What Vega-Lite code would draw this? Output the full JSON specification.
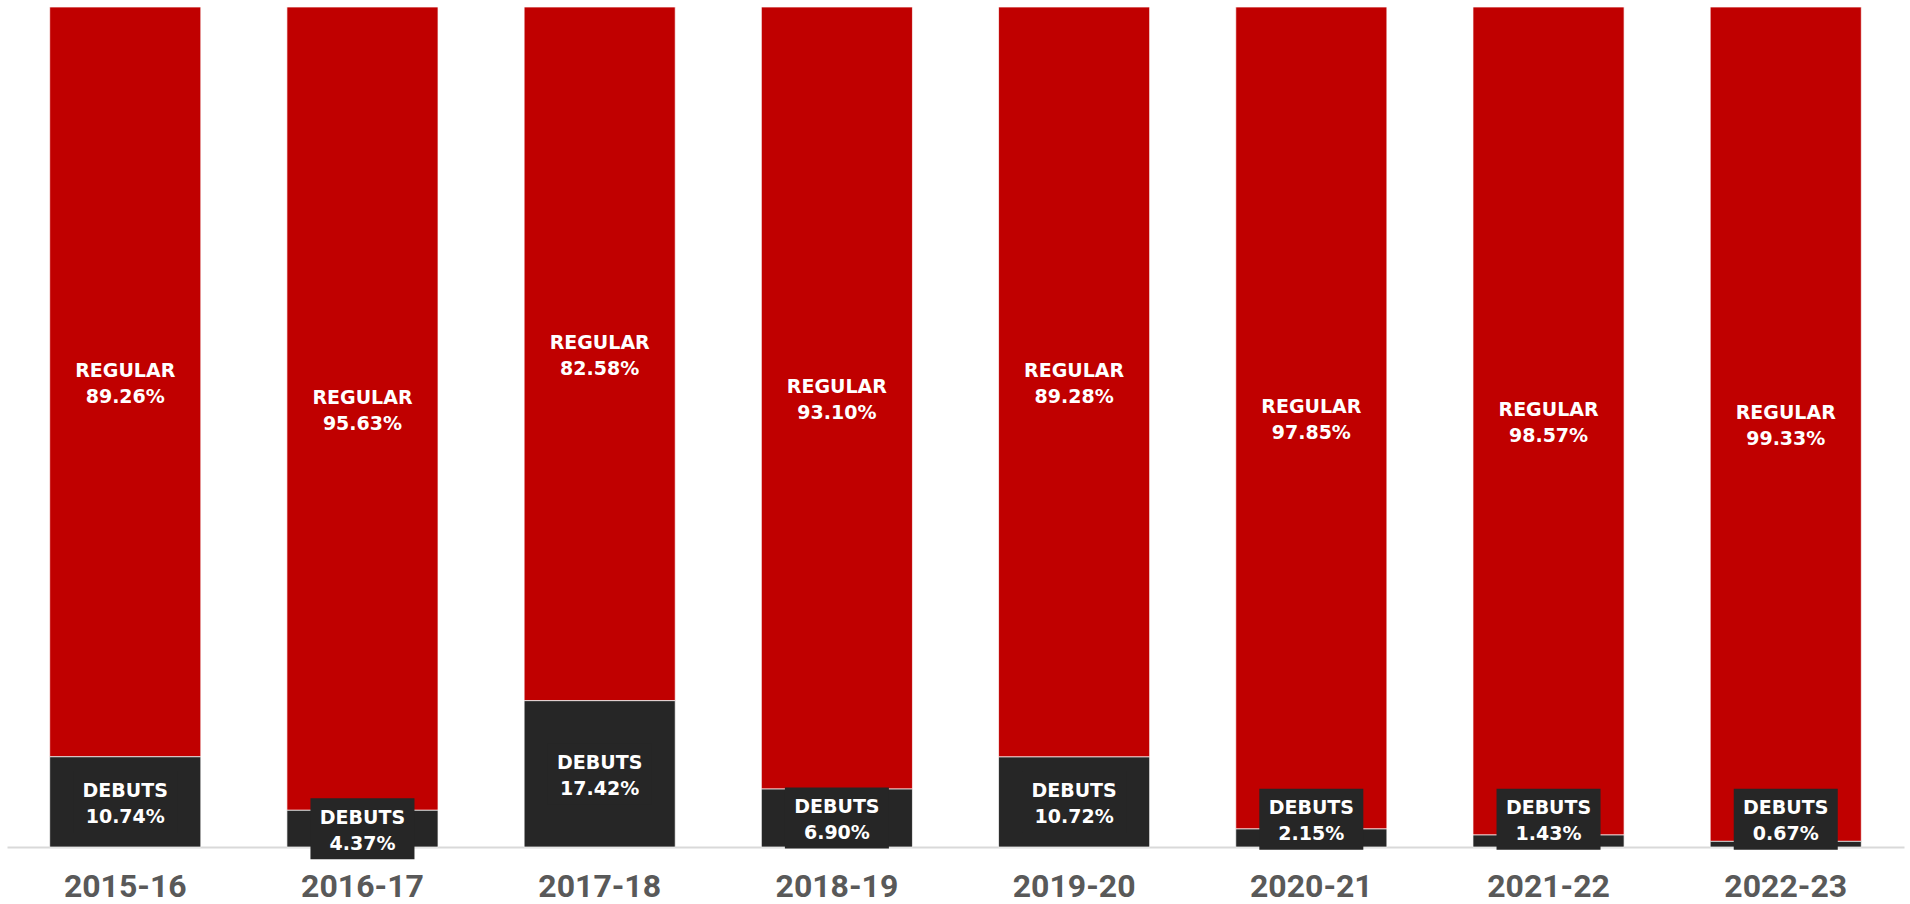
{
  "$schema": "https://vega.github.io/schema/vega-lite/v6.json",
  "width": 1897,
  "height": 840,
  "autosize": {"type": "none"},
  "padding": {"left": 7, "top": 7, "right": 6, "bottom": 57},
  "background": "#ffffff",
  "config": {"view": {"stroke": null}},
  "data": {
    "values": [
      {"season": "2015-16", "type": "REGULAR", "order": 2, "value": 89.26},
      {"season": "2015-16", "type": "DEBUTS", "order": 1, "value": 10.74},
      {"season": "2016-17", "type": "REGULAR", "order": 2, "value": 95.63},
      {"season": "2016-17", "type": "DEBUTS", "order": 1, "value": 4.37},
      {"season": "2017-18", "type": "REGULAR", "order": 2, "value": 82.58},
      {"season": "2017-18", "type": "DEBUTS", "order": 1, "value": 17.42},
      {"season": "2018-19", "type": "REGULAR", "order": 2, "value": 93.10},
      {"season": "2018-19", "type": "DEBUTS", "order": 1, "value": 6.90},
      {"season": "2019-20", "type": "REGULAR", "order": 2, "value": 89.28},
      {"season": "2019-20", "type": "DEBUTS", "order": 1, "value": 10.72},
      {"season": "2020-21", "type": "REGULAR", "order": 2, "value": 97.85},
      {"season": "2020-21", "type": "DEBUTS", "order": 1, "value": 2.15},
      {"season": "2021-22", "type": "REGULAR", "order": 2, "value": 98.57},
      {"season": "2021-22", "type": "DEBUTS", "order": 1, "value": 1.43},
      {"season": "2022-23", "type": "REGULAR", "order": 2, "value": 99.33},
      {"season": "2022-23", "type": "DEBUTS", "order": 1, "value": 0.67}
    ]
  },
  "transform": [
    {"stack": "value", "groupby": ["season"], "sort": [{"field": "order", "order": "ascending"}], "as": ["y0", "y1"]},
    {"calculate": "datum.type == 'DEBUTS' ? (datum.value < 4 ? 3.3 : datum.value / 2) : (datum.y0 + datum.y1) / 2", "as": "labelY"},
    {"calculate": "datum.type + '\\n' + format(datum.value, '.2f') + '%'", "as": "label"}
  ],
  "encoding": {
    "x": {
      "field": "season",
      "type": "nominal",
      "sort": null,
      "scale": {"paddingInner": 0.363, "paddingOuter": 0.18},
      "axis": {
        "title": null,
        "orient": "bottom",
        "labelAngle": 0,
        "ticks": false,
        "grid": false,
        "domainColor": "#d9d9d9",
        "domainWidth": 2,
        "labelFont": "Roboto",
        "labelFontSize": 32,
        "labelFontWeight": "bold",
        "labelColor": "#595959",
        "labelBaseline": "middle",
        "labelPadding": 39
      }
    }
  },
  "layer": [
    {
      "mark": {"type": "bar", "stroke": "#ffffff", "strokeWidth": 1, "strokeOpacity": 0.7},
      "encoding": {
        "y": {"field": "y0", "type": "quantitative", "scale": {"domain": [0, 100], "nice": false}, "axis": null},
        "y2": {"field": "y1"},
        "color": {
          "field": "type",
          "type": "nominal",
          "scale": {"domain": ["REGULAR", "DEBUTS"], "range": ["#c00000", "#262626"]},
          "legend": null
        }
      }
    },
    {
      "transform": [{"filter": "datum.type == 'DEBUTS'"}],
      "mark": {
        "type": "point",
        "shape": "M-1.705,-1L1.705,-1L1.705,1L-1.705,1Z",
        "size": 3721,
        "filled": true,
        "opacity": 1,
        "color": "#262626",
        "strokeWidth": 0
      },
      "encoding": {
        "y": {"field": "labelY", "type": "quantitative"}
      }
    },
    {
      "mark": {
        "type": "text",
        "lineBreak": "\n",
        "lineHeight": 26,
        "font": "DejaVu Sans",
        "fontWeight": "bold",
        "fontSize": 19,
        "color": "#ffffff",
        "align": "center",
        "baseline": "middle",
        "dy": -11
      },
      "encoding": {
        "y": {"field": "labelY", "type": "quantitative"},
        "text": {"field": "label"}
      }
    }
  ]
}
